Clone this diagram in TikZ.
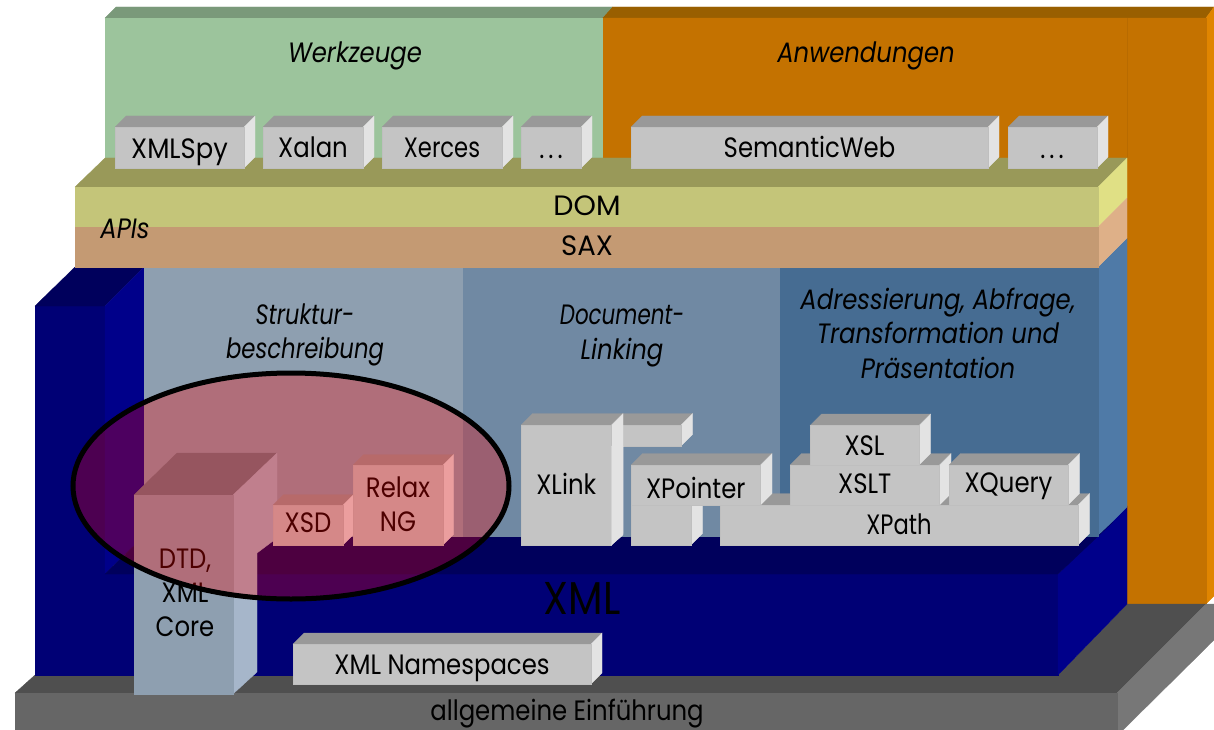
\documentclass[tikz,border=0pt]{standalone}
\usetikzlibrary{shapes.geometric}
\usepackage{graphicx}
\usepackage{fontspec}
\setmainfont{Poppins}[FakeStretch=0.87]
\definecolor{gfront}{HTML}{C4C4C4}
\definecolor{gtop}{HTML}{999999}
\definecolor{gside}{HTML}{E3E3E3}
\definecolor{basef}{HTML}{666666}
\definecolor{baset}{HTML}{4F4F4F}
\definecolor{bases}{HTML}{777777}
\definecolor{orf}{HTML}{C47200}
\definecolor{ort}{HTML}{995F00}
\definecolor{ors}{HTML}{E08500}
\definecolor{grf}{HTML}{9CC49C}
\definecolor{grt}{HTML}{7A997A}
\definecolor{domf}{HTML}{C4C579}
\definecolor{domt}{HTML}{999959}
\definecolor{doms}{HTML}{E0E085}
\definecolor{saxf}{HTML}{C49A73}
\definecolor{saxs}{HTML}{DEB088}
\definecolor{pa}{HTML}{8E9FB0}
\definecolor{pb}{HTML}{7089A3}
\definecolor{pc}{HTML}{466C92}
\definecolor{ps}{HTML}{4F7AA7}
\definecolor{xf}{HTML}{000075}
\definecolor{xt}{HTML}{00005C}
\definecolor{xs}{HTML}{00008A}
\definecolor{dtdt}{HTML}{6A7B89}
\definecolor{dtds}{HTML}{A6B6CA}
\newcommand{\face}[2]{\fill[fill=#1,draw=#1,line width=.3pt] #2 -- cycle;}
\newcommand{\graybox}[8][0]{% y offset of text; name, x1,y1,x2,y2, depth, text
  \fill[gtop,draw=gtop,line width=.3pt] (#3,#4) -- ++(#7,-#7) -- ({#5+#7},{#4-#7}) -- (#5,#4) -- cycle;
  \fill[gside,draw=gside,line width=.3pt] (#5,#4) -- ++(#7,-#7) -- ({#5+#7},{#6-#7}) -- (#5,#6) -- cycle;
  \fill[gfront,draw=black!25,line width=.5pt] (#3,#4) rectangle (#5,#6);
  \node[lbl,align=center] (#2) at ({(#3+#5)/2},{(#4+#6)/2+#1}) {#8};}
\newcommand{\spdots}{.\kern4pt.\kern4pt.}
\newcommand{\sqz}[2]{\scalebox{#1}[1]{#2}}
\tikzset{x=1pt,y=-1pt,lbl/.style={inner sep=0pt,font=\fontsize{28}{34}\selectfont,text=black},
  ital/.style={lbl,align=center,font=\fontsize{28}{34.5}\selectfont\itshape}}
\begin{document}
\begin{tikzpicture}
\useasboundingbox (0,0) rectangle (1214,730);
% orange + green back
\face{ort}{(602,18) -- (612,7) -- (1214,7) -- (1206,18)}
\face{ors}{(1206,18) -- (1214,7) -- (1214,596) -- (1206,604)}
\face{orf}{(602,18) -- (1206,18) -- (1206,604) -- (1127,604) -- (1127,160) -- (602,160)}
\draw[orf!94!black,line width=.6pt] (1127,18) -- (1127,158);
\face{grt}{(105,18) -- (116,7) -- (612,7) -- (602,18)}
\face{grf}{(105,18) -- (602,18) -- (602,160) -- (105,160)}
\node[ital] (werk) at (355,56) {Werkzeuge};
\node[ital] (anw) at (866,56) {Anwendungen};
% base
\face{baset}{(15,693) -- (35,675) -- (1058,675) -- (1127,604) -- (1206,604) -- (1117,693)}
\face{bases}{(1117,693) -- (1206,604) -- (1214,604) -- (1214,640) -- (1123,730) -- (1117,730)}
\face{basef}{(15,693) -- (1117,693) -- (1117,730) -- (15,730)}
\node[lbl] (einf) at (567,714) {allgemeine Einführung};
% XML body
\face{xf}{(35,306) -- (105,306) -- (105,574) -- (1058,574) -- (1058,675) -- (35,675)}
\face{xt}{(35,306) -- (75,267) -- (144,267) -- (105,306)}
\face{xs}{(105,306) -- (144,267) -- (144,536) -- (105,574)}
\face{xs}{(1058,574) -- (1127,506) -- (1127,604) -- (1058,675)}
\face{ps}{(1098,267) -- (1127,238) -- (1127,507) -- (1098,536)}
\face{xt}{(105,574) -- (144,536) -- (1098,536) -- (1113,522) -- (1058,574)}
\face{pa}{(144,267) -- (463,267) -- (463,536) -- (144,536)}
\face{pb}{(463,267) -- (780,267) -- (780,536) -- (463,536)}
\face{pc}{(780,267) -- (1098,267) -- (1098,536) -- (780,536)}
\node[ital] (struk) at (305,335) {\sqz{.92}{Struktur-}\\\sqz{.935}{beschreibung}};
\node[ital] (doc) at (622,336) {\sqz{.88}{Document-}\\Linking};
\node[ital] (adr) at (938,333) {Adressierung, Abfrage,\\Transformation und\\Präsentation};
\node[lbl,font=\fontsize{46}{50}\selectfont] (xml) at (582,598) {XML};
% APIs
\face{domt}{(75,187) -- (105,158) -- (1127,158) -- (1098,187)}
\face{doms}{(1098,187) -- (1127,158) -- (1127,198) -- (1098,227)}
\face{domf}{(75,187) -- (1098,187) -- (1098,227) -- (75,227)}
\face{saxs}{(1098,227) -- (1127,198) -- (1127,238) -- (1098,267)}
\face{saxf}{(75,227) -- (1098,227) -- (1098,267) -- (75,267)}
\node[lbl] (dom) at (587,206) {\sqz{1.17}{DOM}};
\node[lbl] (sax) at (587,246) {\sqz{1.13}{SAX}};
\node[ital] (apis) at (125,229) {APIs};
% top row
\graybox[5]{spy}{115}{127}{244}{168}{11}{\sqz{1.06}{XMLSpy}}
\graybox[0]{xalan}{263}{127}{363}{168}{11}{Xalan}
\graybox[0]{xerces}{382}{127}{502}{168}{11}{\sqz{.93}{Xerces}}
\graybox{boxa}{521}{127}{581}{168}{11}{}
\node[lbl] (dotsa) at (551,157) {\spdots};
\graybox[-1]{sem}{631}{127}{988}{168}{11}{SemanticWeb}
\graybox{boxb}{1008}{127}{1097}{168}{11}{}
\node[lbl] (dotsb) at (1052,157) {\spdots};
% namespaces
\graybox[4]{ns}{293}{644}{591}{684}{11}{XML Namespaces}
% XLink
\graybox{xlb}{611.5}{425}{681}{446}{11.5}{}
\graybox[-1]{xlink}{521}{425}{611.5}{545}{11.5}{XLink}
\face{gside}{(611.5,446) -- (623,446) -- (623,535) -- (611.5,545)}
% XPath group
\graybox[-1]{xpath}{720}{505}{1078}{545}{11.5}{\sqz{.93}{XPath}}
\graybox{xpf}{631}{505}{691}{545}{11.5}{}
\graybox[3]{xpointer}{631}{465}{760.5}{505}{11.5}{XPointer}
\graybox[-1]{xslt}{790}{465}{939.5}{505}{11.5}{XSLT}
\graybox[1]{xquery}{949}{465}{1068}{505}{11.5}{XQuery}
\graybox{xsl}{810}{425.5}{919}{465}{11.5}{XSL}
% Structure description
\face{dtdt}{(134,495) -- (177,453) -- (277,453) -- (233,495)}
\face{dtds}{(233,495) -- (277,453) -- (277,538) -- (257,553) -- (257,672) -- (233,694)}
\face{pa}{(134,495) -- (233,495) -- (233,694) -- (134,694)}
\node[lbl,align=center] (dtd) at (185,593) {DTD,\\XML\\Core};
\graybox[-2]{xsd}{273}{505}{343}{545}{10.5}{XSD}
\graybox[-1]{relax}{353}{465}{443}{545}{10.5}{Relax\\NG}
% highlight
\node[draw=black,line width=5pt,fill=red,fill opacity=.3,draw opacity=1,text opacity=1,ellipse,minimum width=436pt,minimum height=226pt,inner sep=0pt,outer sep=0pt] (hl) at (291,486) {};
\end{tikzpicture}
\end{document}
